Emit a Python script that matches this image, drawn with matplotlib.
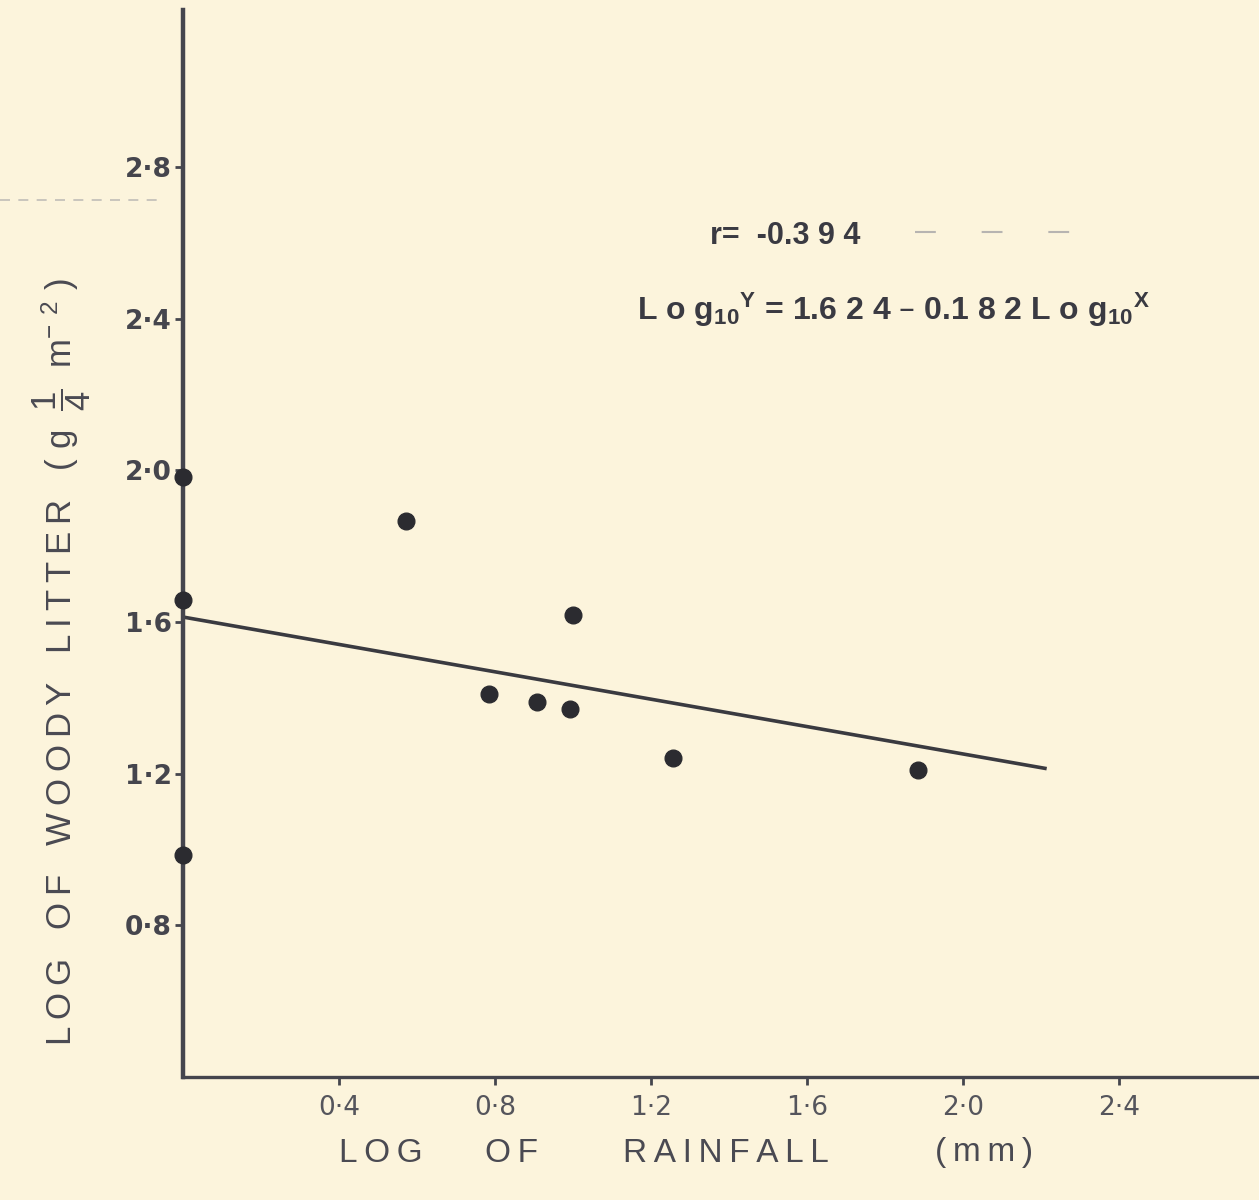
import matplotlib
matplotlib.use('Agg')
import matplotlib.pyplot as plt

# valores (log lluvia, log hojarasca lenosa)
lluvia = [0.0, 0.0, 0.0, 0.572, 0.785, 0.908, 0.992, 1.0, 1.256, 1.885]
hojarasca = [1.982, 1.658, 0.985, 1.866, 1.409, 1.388, 1.370, 1.618, 1.241, 1.209]

# recta de regresion (extremos leidos)
recta_x = [0.0, 2.21]
recta_y = [1.613, 1.214]

ticks_x = [0.4, 0.8, 1.2, 1.6, 2.0, 2.4]
ticks_y = [0.8, 1.2, 1.6, 2.0, 2.4, 2.8]

fondo = '#fcf4dc'
tinta = '#4a4a52'
TS = '\u2009'  # espacio fino

plt.rcParams['font.family'] = ['Liberation Sans', 'DejaVu Sans']
plt.rcParams['mathtext.default'] = 'regular'

fig = plt.figure(figsize=(12.59, 12.0), dpi=100, facecolor=fondo)
ax = fig.add_axes([0.1454, 0.1025, 0.8546, 0.8892], facecolor=fondo)

ax.plot(recta_x, recta_y, color='#3a3a40', lw=2.6, zorder=2)
ax.plot(lluvia, hojarasca, 'o', color='#2b2b30', ms=12, zorder=3, clip_on=False)

ax.set_xlim(0, 2.759)
ax.set_ylim(0.4, 3.214)

ax.spines['top'].set_visible(False)
ax.spines['right'].set_visible(False)
ax.spines['left'].set_color('#45454d')
ax.spines['left'].set_linewidth(3.2)
ax.spines['bottom'].set_color('#45454d')
ax.spines['bottom'].set_linewidth(2.4)

ax.set_xticks(ticks_x)
ax.set_xticklabels([f'{t:.1f}'.replace('.', '·') for t in ticks_x])
ax.set_yticks(ticks_y)
ax.set_yticklabels([f'{t:.1f}'.replace('.', '·') for t in ticks_y])
ax.tick_params(axis='both', direction='out', length=6, width=2, color='#45454d')
ax.tick_params(axis='x', labelsize=19, labelcolor='#55555c', pad=7)
ax.tick_params(axis='y', labelsize=19, labelcolor='#45454d', pad=2)
for lab in ax.get_xticklabels():
    lab.set_family('DejaVu Sans')
for lab in ax.get_yticklabels():
    lab.set_family('DejaVu Sans')
    lab.set_fontweight('bold')

# etiqueta del eje x, palabra por palabra (con espaciado de letras)
y_lab = 1 - 1153 / 1200
for palabra, cx in [(TS.join('LOG'), 381), (TS.join('OF'), 512),
                    (TS.join('RAINFALL'), 726), (TS.join('(mm)'), 984)]:
    fig.text(cx / 1259, y_lab, palabra, ha='center', va='center', fontsize=24, color=tinta)

etiqueta_y = '   '.join([TS.join('LOG'), TS.join('OF'), TS.join('WOODY'), TS.join('LITTER'),
                         '( g  ' + r'$\dfrac{1}{4}$' + '  m$^{-\u2009\u20092}$ )'])
fig.text(62 / 1259, 1 - 662 / 1200, etiqueta_y, rotation=90, ha='center', va='center',
         fontsize=25, color=tinta)

ax.text(785 / 1259, 1 - 236 / 1200, 'r=  -0.3 9 4', transform=fig.transFigure,
        ha='center', va='center', fontsize=22, fontweight='bold', color='#3a3a42')
ax.text(893 / 1259, 1 - 310 / 1200,
        r'L o g$_{10}$$^{Y}$ = 1.6 2 4 – 0.1 8 2 L o g$_{10}$$^{X}$',
        transform=fig.transFigure, ha='center', va='center', fontsize=23,
        fontweight='bold', color='#3a3a42')

# marcas tenues del escaneo original
fig.add_artist(plt.Line2D([0.0, 0.13], [1 - 200 / 1200] * 2, color='#9a9aa0', lw=1.2,
                          ls=(0, (6, 5)), alpha=0.6))
fig.add_artist(plt.Line2D([915 / 1259, 1095 / 1259], [1 - 232 / 1200] * 2, color='#9a9aa0',
                          lw=1.5, ls=(0, (10, 22)), alpha=0.7))

fig.savefig('out.png', dpi=100, facecolor=fondo)
